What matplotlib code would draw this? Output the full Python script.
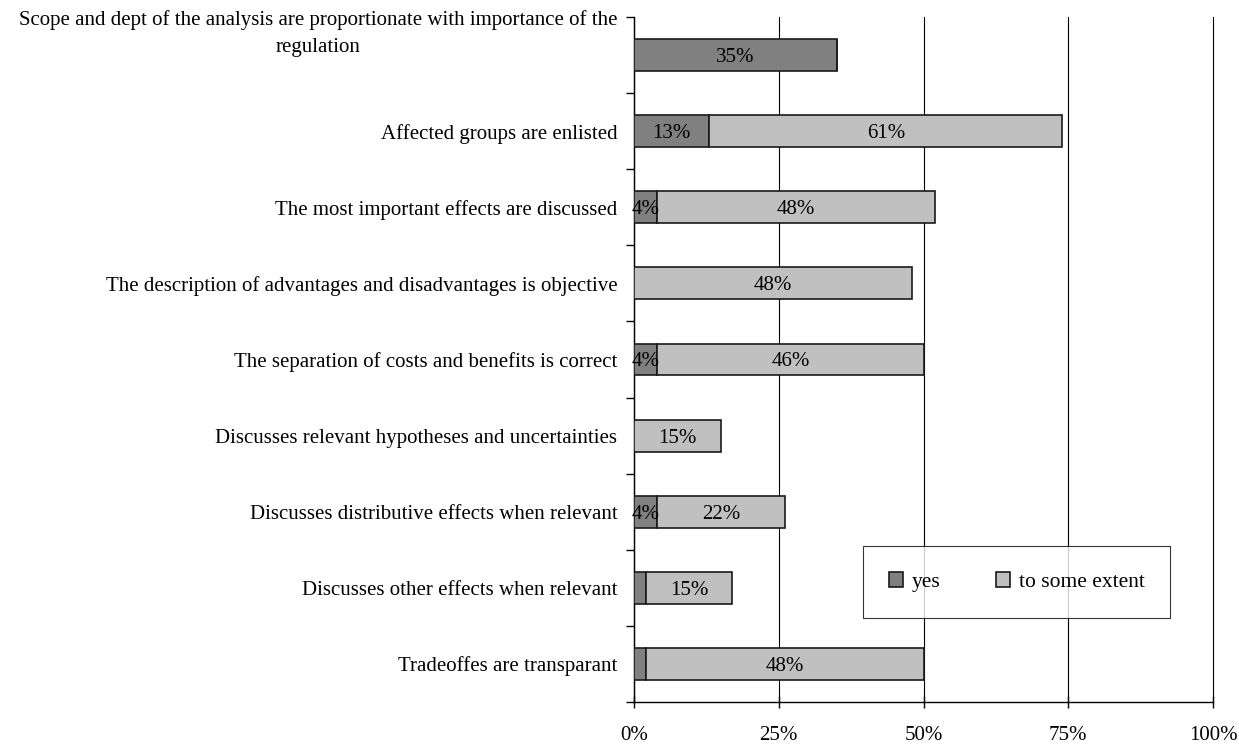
import matplotlib
matplotlib.use("Agg")
import matplotlib.pyplot as plt
import matplotlib.transforms as mtransforms
import numpy as np

# Categories (top to bottom) and shares in percent
categories = [
    "Scope and dept of the analysis are proportionate with importance of the\nregulation",
    "Affected groups are enlisted",
    "The most important effects are discussed",
    "The description of advantages and disadvantages is objective",
    "The separation of costs and benefits is correct",
    "Discusses relevant hypotheses and uncertainties",
    "Discusses distributive effects when relevant",
    "Discusses other effects when relevant",
    "Tradeoffes are transparant",
]
yes = [35, 13, 4, 0, 4, 0, 4, 2, 2]
some_extent = [0, 61, 48, 48, 46, 15, 22, 15, 48]
# which segments carry a text label
yes_labels = ["35%", "13%", "4%", "", "4%", "", "4%", "", ""]
some_labels = ["", "61%", "48%", "48%", "46%", "15%", "22%", "15%", "48%"]
xticks = [0, 25, 50, 75, 100]

plt.rcParams["font.family"] = ["Liberation Serif", "DejaVu Serif"]
FS = 15

fig = plt.figure(figsize=(12.39, 7.45), dpi=100)
ax = fig.add_axes([634 / 1239, 1 - 702 / 745, 579 / 1239, 685 / 745])

n = len(categories)
y = np.arange(n)
h = 0.42

ax.barh(y, yes, height=h, color="#808080", edgecolor="#1a1a1a", linewidth=1.2,
        label="yes", zorder=3)
ax.barh(y, some_extent, left=yes, height=h, color="#c0c0c0", edgecolor="#1a1a1a",
        linewidth=1.2, label="to some extent", zorder=3)

for i in range(n):
    if yes_labels[i]:
        ax.text(yes[i] / 2, y[i], yes_labels[i], ha="center",
                va="center_baseline", fontsize=FS, zorder=4)
    if some_labels[i]:
        ax.text(yes[i] + some_extent[i] / 2, y[i], some_labels[i], ha="center",
                va="center_baseline", fontsize=FS, zorder=4)

ax.set_xlim(0, 100)
ax.set_ylim(n - 0.5, -0.5)
ax.set_xticks(xticks)
ax.set_xticklabels([f"{t}%" for t in xticks], fontsize=FS)
ax.tick_params(axis="x", length=9, width=1, pad=13, direction="inout")
ax.xaxis.grid(True, color="black", linewidth=0.8, zorder=0)
for gl in ax.get_xgridlines():
    gl.set_clip_on(False)

# category labels between tick boundaries
ax.set_yticks(y)
ax.set_yticklabels(categories, fontsize=FS, multialignment="center",
                   linespacing=1.6)
ax.tick_params(axis="y", length=0, pad=12)
ax.set_yticks(np.arange(n + 1) - 0.5, minor=True)
ax.tick_params(axis="y", which="minor", length=6, width=1, direction="out")

# the two-line label sits higher than its bar
first = ax.get_yticklabels()[0]
first.set_transform(first.get_transform() +
                    mtransforms.ScaledTranslation(0, 28 / 100, fig.dpi_scale_trans))

for side in ["top", "right"]:
    ax.spines[side].set_visible(False)
for side in ["left", "bottom"]:
    ax.spines[side].set_color("black")
    ax.spines[side].set_linewidth(1.0)

leg = ax.legend(loc="center", bbox_to_anchor=(0.661, 0.175), ncol=2,
                frameon=True, fancybox=False, fontsize=15.5,
                handlelength=0.65, handleheight=0.65, handletextpad=0.4,
                columnspacing=2.6, borderpad=1.2, borderaxespad=0)
leg.get_frame().set_edgecolor("black")
leg.get_frame().set_linewidth(0.8)

fig.savefig("out.png", dpi=100)
